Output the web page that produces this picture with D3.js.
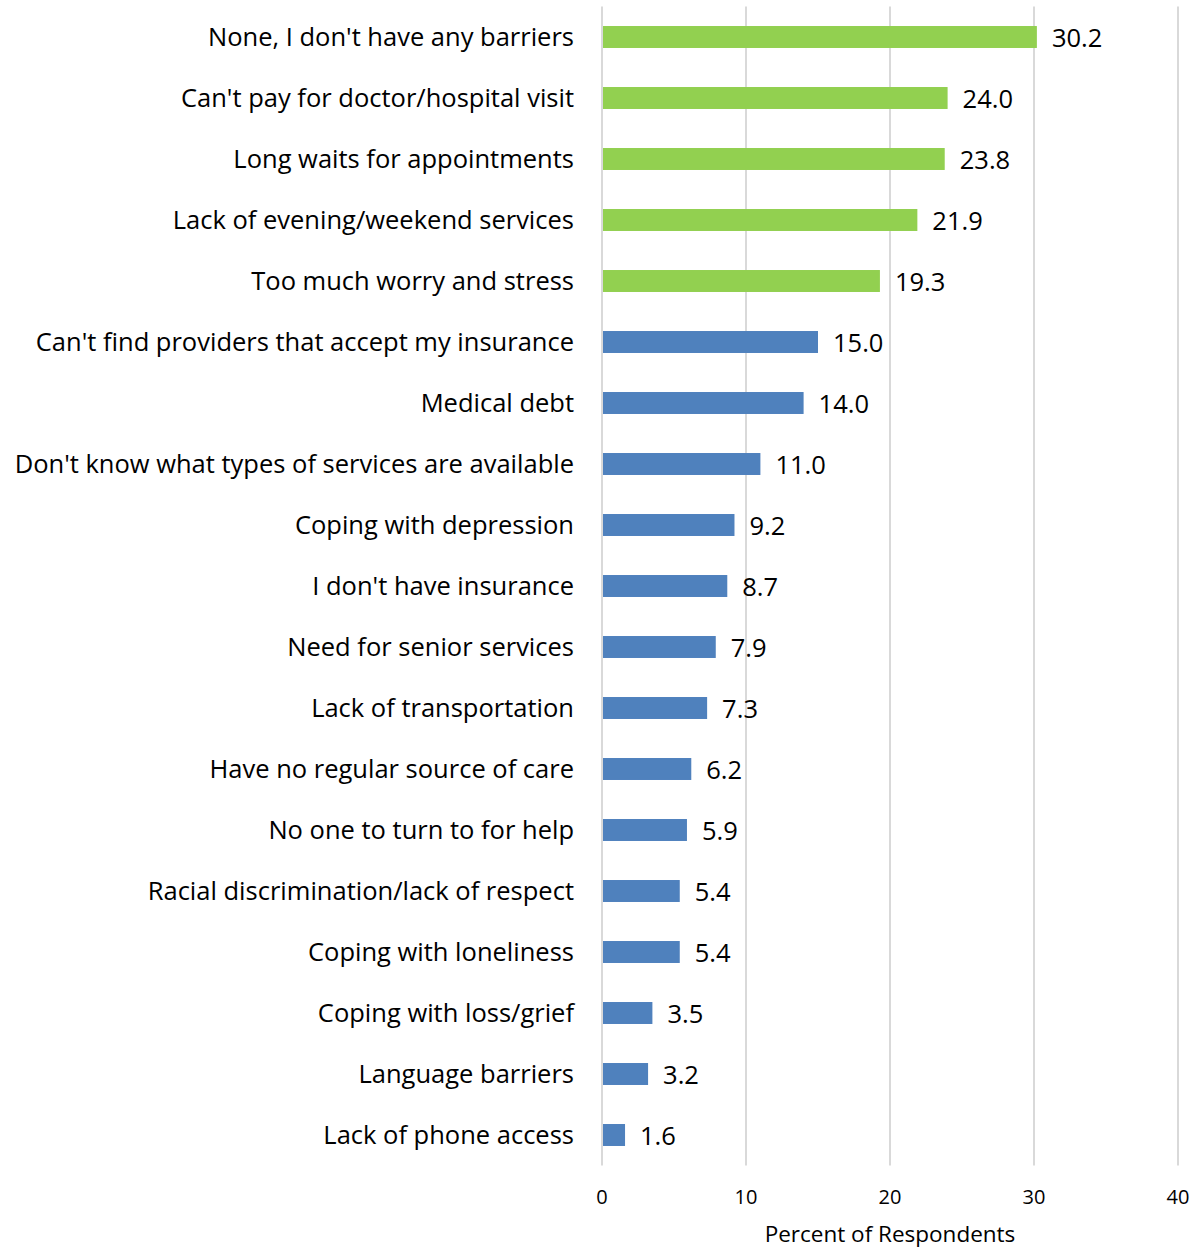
<!DOCTYPE html>
<html>
<head>
<meta charset="utf-8">
<script src="https://cdn.jsdelivr.net/npm/d3@7"></script>
<style>
  body { margin: 0; background: #fff; }
  text { font-family: "Open Sans", Lato, sans-serif; fill: #000; }
</style>
</head>
<body>
<svg width="1195" height="1249"></svg>
<script>
const categories = [
  "None, I don't have any barriers",
  "Can't pay for doctor/hospital visit",
  "Long waits for appointments",
  "Lack of evening/weekend services",
  "Too much worry and stress",
  "Can't find providers that accept my insurance",
  "Medical debt",
  "Don't know what types of services are available",
  "Coping with depression",
  "I don't have insurance",
  "Need for senior services",
  "Lack of transportation",
  "Have no regular source of care",
  "No one to turn to for help",
  "Racial discrimination/lack of respect",
  "Coping with loneliness",
  "Coping with loss/grief",
  "Language barriers",
  "Lack of phone access"
];
const values = [30.2, 24.0, 23.8, 21.9, 19.3, 15.0, 14.0, 11.0, 9.2, 8.7, 7.9, 7.3, 6.2, 5.9, 5.4, 5.4, 3.5, 3.2, 1.6];
const highlighted = [true, true, true, true, true, false, false, false, false, false, false, false, false, false, false, false, false, false, false];
const xTicks = [0, 10, 20, 30, 40];
const xTitle = "Percent of Respondents";

const GREEN = '#92D050';
const BLUE = '#4F81BD';
const GRID = '#D9D9D9';

const svg = d3.select('svg');
const plotLeft = 602, plotRight = 1178, plotTop = 6.5, plotBottom = 1165.5;

const x = d3.scaleLinear().domain([0, 40]).range([plotLeft, plotRight]);
const y = d3.scaleBand()
  .domain(categories)
  .range([plotTop, plotBottom])
  .paddingInner(0.64)
  .paddingOuter(0.32);

const rows = categories.map((c, i) => ({ label: c, value: values[i], hi: highlighted[i] }));

// gridlines
svg.append('g')
  .selectAll('line')
  .data(xTicks)
  .enter().append('line')
    .attr('x1', d => x(d)).attr('x2', d => x(d))
    .attr('y1', plotTop).attr('y2', plotBottom)
    .attr('stroke', GRID)
    .attr('stroke-width', 2);

// bars
svg.append('g')
  .selectAll('rect')
  .data(rows)
  .enter().append('rect')
    .attr('x', x(0) + 1)
    .attr('y', d => y(d.label))
    .attr('width', d => x(d.value) - x(0) - 1)
    .attr('height', y.bandwidth())
    .attr('fill', d => d.hi ? GREEN : BLUE);

// value labels
svg.append('g')
  .selectAll('text')
  .data(rows)
  .enter().append('text')
    .attr('x', d => x(d.value) + 15)
    .attr('y', d => y(d.label) + y.bandwidth() / 2 + 1)
    .attr('dy', '0.36em')
    .style('font-size', '25.5px')
    .text(d => d.value.toFixed(1));

// category labels
svg.append('g')
  .selectAll('text')
  .data(rows)
  .enter().append('text')
    .attr('x', 574)
    .attr('y', d => y(d.label) + y.bandwidth() / 2)
    .attr('dy', '0.36em')
    .attr('text-anchor', 'end')
    .style('font-size', '25.5px')
    .text(d => d.label);

// x tick labels
svg.append('g')
  .selectAll('text')
  .data(xTicks)
  .enter().append('text')
    .attr('x', d => x(d))
    .attr('y', 1197)
    .attr('dy', '0.36em')
    .attr('text-anchor', 'middle')
    .style('font-size', '20px')
    .text(d => d);

svg.append('text')
  .attr('x', (x(0) + x(40)) / 2)
  .attr('y', 1234)
  .attr('dy', '0.36em')
  .attr('text-anchor', 'middle')
  .style('font-size', '22.5px')
  .text(xTitle);
</script>
</body>
</html>
